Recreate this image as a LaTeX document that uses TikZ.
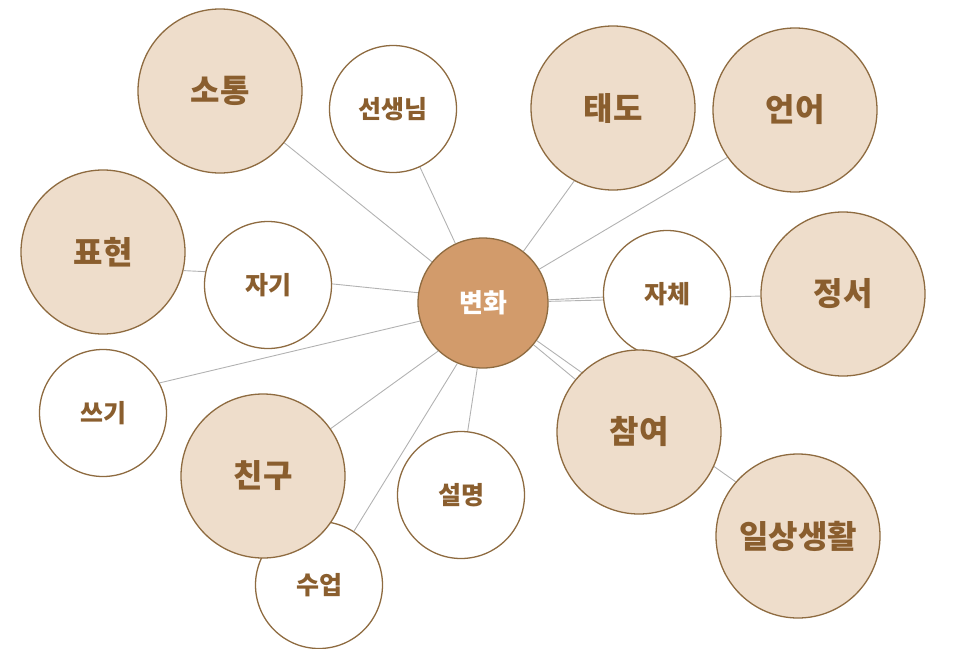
\documentclass[tikz,border=0pt]{standalone}
\usepackage{fontspec}
\setmainfont{Noto Sans CJK KR}
\usetikzlibrary{backgrounds}
\definecolor{edgebrown}{HTML}{8E6B40}
\definecolor{txtbrown}{HTML}{8A5E2E}
\definecolor{beige}{HTML}{EEDDCB}
\definecolor{hubfill}{HTML}{D29B6B}
\definecolor{linkgray}{HTML}{B2B2B2}
\begin{document}
\begin{tikzpicture}[x=1pt,y=-1pt,
  bigc/.style={circle,draw=edgebrown,line width=1.3pt,fill=beige,minimum size=164pt,inner sep=0pt,text=txtbrown,font=\fontsize{32}{34}\selectfont\bfseries},
  smallc/.style={circle,draw=edgebrown,line width=1.3pt,fill=white,minimum size=127pt,inner sep=0pt,text=txtbrown,font=\fontsize{25}{27}\selectfont\bfseries},
  hubc/.style={circle,draw=edgebrown,line width=1.3pt,fill=hubfill,minimum size=130pt,inner sep=0pt,text=white,font=\fontsize{26}{28}\selectfont\bfseries},
  conn/.style={draw=linkgray,line width=0.9pt}]
\useasboundingbox (0,0) rectangle (953,648);
% small white circles
\node[smallc] (seonsaeng) at (393,109) {선생님};
\node[smallc] (jagi) at (268,285) {자기};
\node[smallc] (jache) at (667,294) {자체};
\node[smallc] (sseugi) at (103,413) {쓰기};
\node[smallc] (seolmyeong) at (461,495) {설명};
\node[smallc] (suup) at (319,585) {수업};
% big beige circles
\node[bigc] (sotong) at (220,91) {소통};
\node[bigc] (taedo) at (613,108) {태도};
\node[bigc] (eoneo) at (795,110) {언어};
\node[bigc] (pyohyeon) at (103,252) {표현};
\node[bigc] (jeongseo) at (843,294) {정서};
\node[bigc] (chamyeo) at (639,432) {참여};
\node[bigc] (chingu) at (263,476) {친구};
\node[bigc] (ilsang) at (798,536) {일상생활};
% hub
\node[hubc] (hub) at (483,303) {변화};
% connectors
\begin{scope}[on background layer]
\draw[conn] (hub) -- (sotong);
\draw[conn] (hub) -- (seonsaeng);
\draw[conn] (hub.52) -- (taedo.-118);
\draw[conn] (hub.31) -- (eoneo.-145);
\draw[conn] (hub.171) -- (jagi.1);
\draw[conn] (pyohyeon.-13) -- (jagi.168);
\draw[conn] (hub) -- (jache);
\draw[conn] (hub) -- (jeongseo);
\draw[conn] (hub) -- (chamyeo);
\draw[conn] (hub.-35) -- (ilsang.139);
\draw[conn] (hub.-164) -- (sseugi.28);
\draw[conn] (hub.-133) -- (chingu.35);
\draw[conn] (hub.-113) -- (suup.57);
\draw[conn] (hub.-95) -- (seolmyeong.84);
\end{scope}
\end{tikzpicture}
\end{document}
